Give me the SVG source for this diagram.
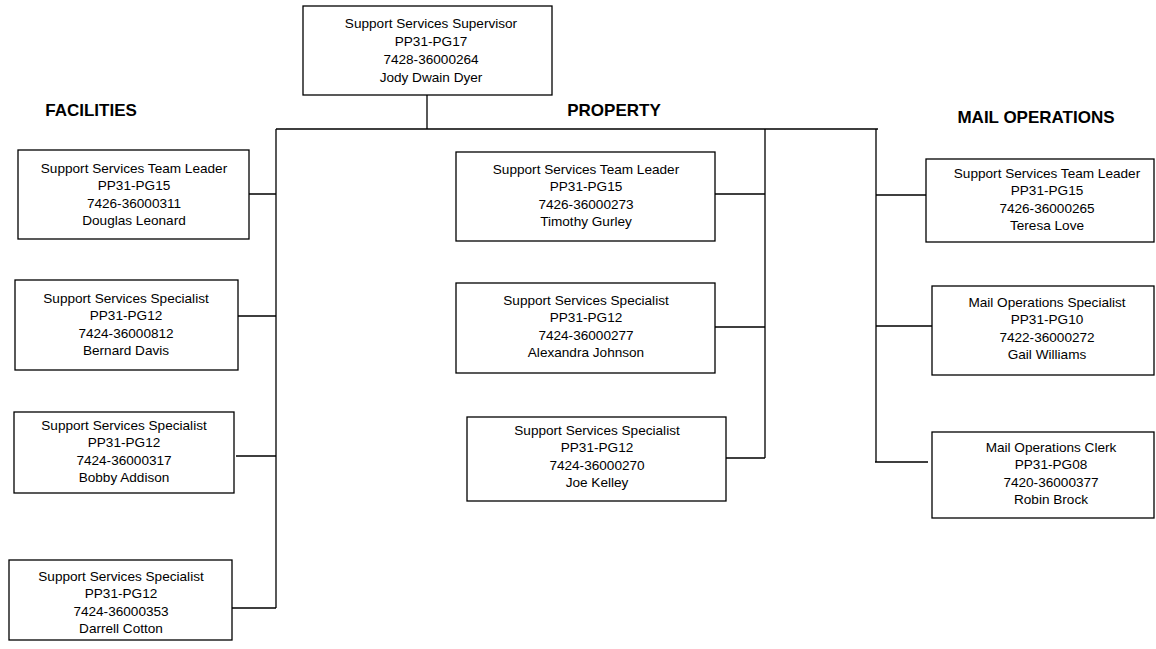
<svg xmlns="http://www.w3.org/2000/svg" width="1156" height="649" viewBox="0 0 1156 649">
<style>
.box{fill:#fff;stroke:#000;stroke-width:1.3}
.t{font-family:"Liberation Sans",Arial,sans-serif;font-size:13.6px;fill:#000;text-anchor:middle}
.h{font-family:"Liberation Sans",Arial,sans-serif;font-size:17px;font-weight:bold;fill:#000;text-anchor:middle}
.c{stroke:#000;stroke-width:1.3;fill:none}
</style>
<rect width="1156" height="649" fill="#fff"/>
<g id="connectors">
<path class="c" d="M427,95 V129 M276,129 H878"/>
<path class="c" d="M276,129 V608 M249,194 H276 M238,316 H276 M236,456 H276 M232,608 H276"/>
<path class="c" d="M765,129 V458 M715,194 H765 M715,327 H765 M726,458 H765"/>
<path class="c" d="M876,129 V462 M876,195 H926 M876,326 H932 M875,462 H928"/>
</g>
<g id="headings">
<text class="h" x="91" y="116">FACILITIES</text>
<text class="h" x="614" y="116">PROPERTY</text>
<text class="h" x="1036" y="123">MAIL OPERATIONS</text>
</g>
<g id="supervisor">
<rect class="box" x="303" y="6" width="249" height="89"/>
<text class="t" x="431" y="28">Support Services Supervisor<tspan x="431" dy="18">PP31-PG17</tspan><tspan x="431" dy="18">7428-36000264</tspan><tspan x="431" dy="18">Jody Dwain Dyer</tspan></text>
</g>
<g id="fac-leader">
<rect class="box" x="18" y="150" width="231" height="89"/>
<text class="t" x="134" y="173">Support Services Team Leader<tspan x="134" dy="17.3">PP31-PG15</tspan><tspan x="134" dy="17.3">7426-36000311</tspan><tspan x="134" dy="17.3">Douglas Leonard</tspan></text>
</g>
<g id="fac-spec1">
<rect class="box" x="15" y="280" width="223" height="90"/>
<text class="t" x="126" y="303">Support Services Specialist<tspan x="126" dy="17.3">PP31-PG12</tspan><tspan x="126" dy="17.3">7424-36000812</tspan><tspan x="126" dy="17.3">Bernard Davis</tspan></text>
</g>
<g id="fac-spec2">
<rect class="box" x="14" y="412" width="220" height="81"/>
<text class="t" x="124" y="430">Support Services Specialist<tspan x="124" dy="17.3">PP31-PG12</tspan><tspan x="124" dy="17.3">7424-36000317</tspan><tspan x="124" dy="17.3">Bobby Addison</tspan></text>
</g>
<g id="fac-spec3">
<rect class="box" x="9" y="560" width="223" height="80"/>
<text class="t" x="121" y="581">Support Services Specialist<tspan x="121" dy="17.3">PP31-PG12</tspan><tspan x="121" dy="17.3">7424-36000353</tspan><tspan x="121" dy="17.3">Darrell Cotton</tspan></text>
</g>
<g id="prop-leader">
<rect class="box" x="456" y="152" width="259" height="89"/>
<text class="t" x="586" y="174">Support Services Team Leader<tspan x="586" dy="17.3">PP31-PG15</tspan><tspan x="586" dy="17.3">7426-36000273</tspan><tspan x="586" dy="17.3">Timothy Gurley</tspan></text>
</g>
<g id="prop-spec1">
<rect class="box" x="456" y="283" width="259" height="90"/>
<text class="t" x="586" y="305">Support Services Specialist<tspan x="586" dy="17.3">PP31-PG12</tspan><tspan x="586" dy="17.3">7424-36000277</tspan><tspan x="586" dy="17.3">Alexandra Johnson</tspan></text>
</g>
<g id="prop-spec2">
<rect class="box" x="467" y="417" width="259" height="84"/>
<text class="t" x="597" y="435">Support Services Specialist<tspan x="597" dy="17.3">PP31-PG12</tspan><tspan x="597" dy="17.3">7424-36000270</tspan><tspan x="597" dy="17.3">Joe Kelley</tspan></text>
</g>
<g id="mail-leader">
<rect class="box" x="926" y="159" width="228" height="83"/>
<text class="t" x="1047" y="178">Support Services Team Leader<tspan x="1047" dy="17.3">PP31-PG15</tspan><tspan x="1047" dy="17.3">7426-36000265</tspan><tspan x="1047" dy="17.3">Teresa Love</tspan></text>
</g>
<g id="mail-spec">
<rect class="box" x="932" y="286" width="222" height="89"/>
<text class="t" x="1047" y="307">Mail Operations Specialist<tspan x="1047" dy="17.3">PP31-PG10</tspan><tspan x="1047" dy="17.3">7422-36000272</tspan><tspan x="1047" dy="17.3">Gail Williams</tspan></text>
</g>
<g id="mail-clerk">
<rect class="box" x="932" y="432" width="222" height="86"/>
<text class="t" x="1051" y="452">Mail Operations Clerk<tspan x="1051" dy="17.3">PP31-PG08</tspan><tspan x="1051" dy="17.3">7420-36000377</tspan><tspan x="1051" dy="17.3">Robin Brock</tspan></text>
</g>
</svg>
